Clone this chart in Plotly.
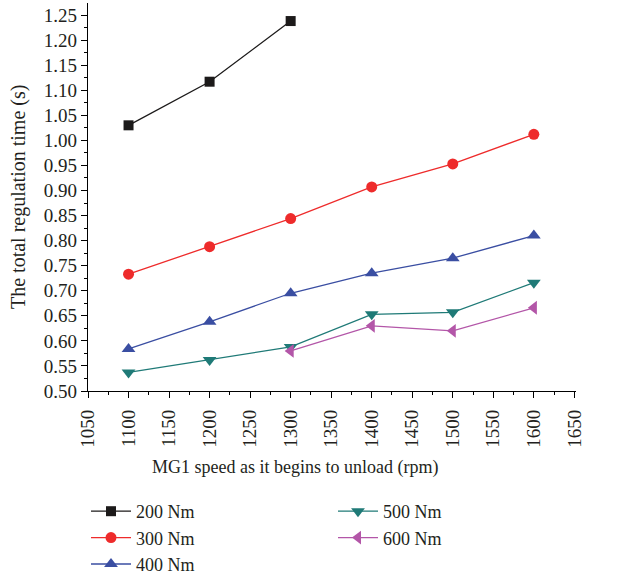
import plotly.graph_objects as go

# MG1 speed at unload start (rpm)
speed_full = [1100, 1200, 1300, 1400, 1500, 1600]
speed_200 = [1100, 1200, 1300]
speed_600 = [1300, 1400, 1500, 1600]

# Total regulation time (s) per load torque
t_200 = [1.030, 1.117, 1.238]
t_300 = [0.733, 0.788, 0.844, 0.907, 0.953, 1.012]
t_400 = [0.584, 0.638, 0.695, 0.735, 0.765, 0.810]
t_500 = [0.537, 0.562, 0.588, 0.653, 0.657, 0.716]
t_600 = [0.580, 0.630, 0.620, 0.666]

x_ticks = list(range(1050, 1651, 50))
y_ticks = [round(0.50 + 0.05 * i, 2) for i in range(16)]

FONT = "Liberation Serif"
TXT = "#231f20"

W, H = 617, 580
ML, MR, MT, MB = 88, 41, 3, 189
PW, PH = W - ML - MR, H - MT - MB


def px_to_paper(px, py):
    """Convert figure pixel coordinates to paper coordinates."""
    return (px - ML) / PW, (H - MB - py) / PH


series = [
    ("200 Nm", speed_200, t_200, "#1c1a1a", "square", 10, "legend"),
    ("300 Nm", speed_full, t_300, "#ee2b2b", "circle", 11, "legend"),
    ("400 Nm", speed_full, t_400, "#3a4ea2", "triangle-up", 12, "legend"),
    ("500 Nm", speed_full, t_500, "#1f7a77", "triangle-down", 12, "legend2"),
    ("600 Nm", speed_600, t_600, "#b356a8", "triangle-left", 12, "legend2"),
]

fig = go.Figure()
for name, xs, ys, color, symbol, size, leg in series:
    fig.add_trace(go.Scatter(
        x=xs, y=ys, name=name, mode="lines+markers",
        line=dict(color=color, width=1.3),
        marker=dict(symbol=symbol, size=size, color=color),
        legend=leg,
    ))

axis_common = dict(
    showline=True, linecolor="black", linewidth=1.2,
    ticks="outside", ticklen=6, tickwidth=1, tickcolor="black",
    showgrid=False, zeroline=False, mirror=False,
    tickfont=dict(family=FONT, size=19, color=TXT),
    automargin=False,
)

fig.update_xaxes(
    **axis_common,
    range=[1050, 1652], tickvals=x_ticks, ticktext=[str(v) for v in x_ticks],
    tickangle=-90, ticklabelstandoff=4,
    minor=dict(ticks="outside", ticklen=3, dtick=25, tick0=1050, tickcolor="black"),
)
fig.update_yaxes(
    **axis_common,
    range=[0.50, 1.274], tickvals=y_ticks, ticktext=[f"{v:.2f}" for v in y_ticks],
    minor=dict(ticks="outside", ticklen=3, dtick=0.025, tick0=0.5, tickcolor="black"),
)

# axis titles
xt_x, xt_y = px_to_paper(295, 467)
yt_x, yt_y = px_to_paper(18, 197)
fig.add_annotation(text="MG1 speed as it begins to unload (rpm)", xref="paper", yref="paper",
                   x=xt_x, y=xt_y, showarrow=False, xanchor="center", yanchor="middle",
                   font=dict(family=FONT, size=18, color=TXT))
fig.add_annotation(text="The total regulation time (s)", xref="paper", yref="paper",
                   x=yt_x, y=yt_y, showarrow=False, xanchor="center", yanchor="middle",
                   textangle=-90, font=dict(family=FONT, size=20, color=TXT))

legend_font = dict(family=FONT, size=18, color=TXT)
fig.update_layout(
    width=W, height=H,
    margin=dict(l=ML, r=MR, t=MT, b=MB, autoexpand=False),
    paper_bgcolor="white", plot_bgcolor="white",
    legend=dict(xref="container", yref="container", x=86 / W, y=1 - 493 / H,
                xanchor="left", yanchor="top", font=legend_font,
                bgcolor="rgba(0,0,0,0)", itemwidth=40),
    legend2=dict(xref="container", yref="container", x=333 / W, y=1 - 493 / H,
                 xanchor="left", yanchor="top", font=legend_font,
                 bgcolor="rgba(0,0,0,0)", itemwidth=40),
)

fig.write_html("out.html")
